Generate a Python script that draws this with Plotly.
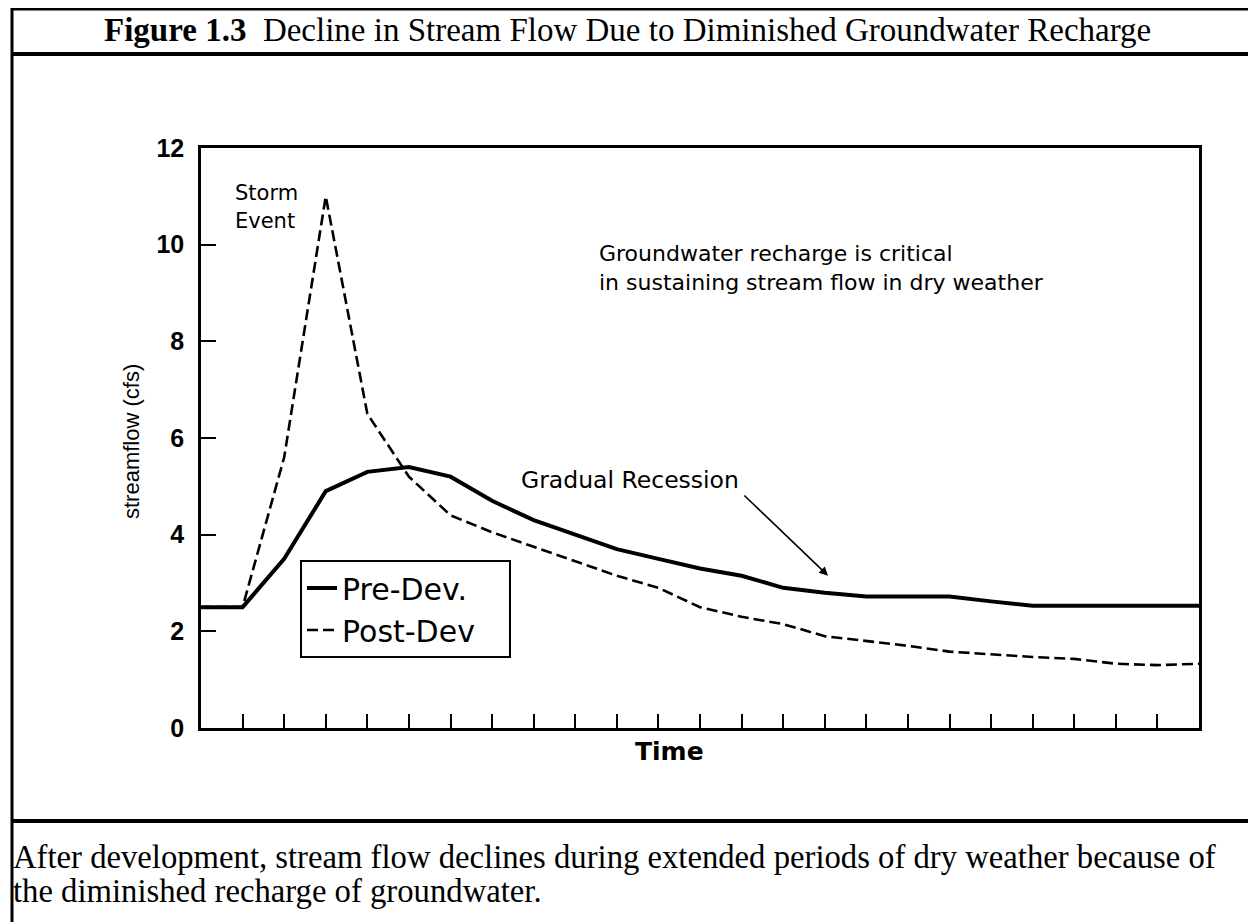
import plotly.graph_objects as go

# streamflow (cfs) at each time step
time_steps = list(range(25))
pre_dev = [2.5, 2.5, 3.5, 4.9, 5.3, 5.4, 5.2, 4.7, 4.3, 4.0, 3.7, 3.5, 3.3, 3.15,
           2.9, 2.8, 2.72, 2.72, 2.72, 2.62, 2.53, 2.53, 2.53, 2.53, 2.53]
post_dev = [2.5, 2.5, 5.6, 11.0, 6.5, 5.2, 4.4, 4.05, 3.75, 3.45, 3.15, 2.9, 2.5, 2.3,
            2.15, 1.9, 1.8, 1.7, 1.58, 1.52, 1.47, 1.43, 1.33, 1.3, 1.33]
y_ticks = [0, 2, 4, 6, 8, 10, 12]
x_ticks = list(range(1, 24))

OFF = 8                      # page body margin around the plot div
W, H = 1256 - OFF, 922 - OFF
L, R, T, B = 201, 1199, 148, 728   # plot box in page pixels


def px(x):
    return (x - L) / (R - L)


def py(y):
    return (B - y) / (B - T)


sans = "DejaVu Sans, Arial, sans-serif"
arial = "Liberation Sans, Arial, sans-serif"
times = "Liberation Serif, Times New Roman, serif"

fig = go.Figure()
fig.add_trace(go.Scatter(x=time_steps, y=pre_dev, mode="lines", name="Pre-Dev.",
                         line=dict(color="black", width=4)))
fig.add_trace(go.Scatter(x=time_steps, y=post_dev, mode="lines",
                         name="Post-Dev&nbsp;&nbsp;&nbsp;",
                         line=dict(color="black", width=2.6, dash="11px,5px")))

fig.update_layout(
    width=W, height=H,
    margin=dict(l=L - OFF, r=W - (R - OFF), t=T - OFF, b=H - (B - OFF)),
    paper_bgcolor="white", plot_bgcolor="white",
    showlegend=True,
    legend=dict(x=px(300), y=py(560), xanchor="left", yanchor="top",
                bordercolor="black", borderwidth=2, bgcolor="white",
                font=dict(family=sans, size=30, color="black"),
                itemwidth=30, tracegroupgap=0),
    xaxis=dict(range=[0, 24], tickvals=x_ticks, showticklabels=False,
               ticks="inside", ticklen=14, tickwidth=2, tickcolor="black",
               showline=True, linewidth=2.5, linecolor="black", mirror=True,
               showgrid=False, zeroline=False),
    yaxis=dict(range=[0, 12], tickvals=y_ticks, ticks="inside", ticklen=15,
               tickwidth=2, tickcolor="black", ticklabelstandoff=9,
               tickfont=dict(family=arial, size=25, color="black", weight="bold"),
               showline=True, linewidth=2.5, linecolor="black", mirror=True,
               showgrid=False, zeroline=False),
)

# frame around the figure
frame = [
    (px(12), py(9), 2.0, py(9), 3),
    (px(12), py(54), 2.0, py(54), 4),
    (px(12), py(821), 2.0, py(821), 4),
    (px(12), py(8), px(12), -1.0, 3),
]
for x0, y0, x1, y1, w in frame:
    fig.add_shape(type="line", xref="paper", yref="paper", x0=x0, y0=y0, x1=x1, y1=y1,
                  line=dict(color="black", width=w))

fig.add_annotation(xref="paper", yref="paper", x=px(627), y=py(30), xanchor="center",
                   yanchor="middle", showarrow=False,
                   text="<b>Figure 1.3</b> &nbsp;Decline in Stream Flow Due to Diminished Groundwater Recharge",
                   font=dict(family=times, size=33, color="black"))
caption = ["After development, stream flow declines during extended periods of dry weather because of",
           "the diminished recharge of groundwater."]
for line, yc in zip(caption, [857, 891]):
    fig.add_annotation(xref="paper", yref="paper", x=px(11), y=py(yc), xanchor="left",
                       yanchor="middle", showarrow=False, text=line,
                       font=dict(family=times, size=32.7, color="black"))

# axis titles
fig.add_annotation(xref="paper", yref="paper", x=px(131), y=py(442), textangle=-90,
                   xanchor="center", yanchor="middle", showarrow=False,
                   text="streamflow (cfs)", font=dict(family=arial, size=22, color="black"))
fig.add_annotation(xref="paper", yref="paper", x=px(669), y=py(751),
                   xanchor="center", yanchor="middle", showarrow=False,
                   text="<b>Time</b>", font=dict(family=sans, size=25, color="black"))

# notes inside the plot
notes = [("Storm", 0.77, 11.07, 21), ("Event", 0.77, 10.49, 21),
         ("Groundwater recharge is critical", 9.52, 9.81, 22),
         ("in sustaining stream flow in dry weather", 9.52, 9.21, 22),
         ("Gradual Recession", 7.65, 5.13, 23.5)]
for txt, xv, yv, size in notes:
    fig.add_annotation(x=xv, y=yv, xanchor="left", yanchor="middle", showarrow=False,
                       text=txt, font=dict(family=sans, size=size, color="black"))
fig.add_annotation(x=15.08, y=3.15, ax=13.03, ay=4.84, axref="x", ayref="y",
                   showarrow=True, arrowhead=2, arrowsize=1.1, arrowwidth=1.6,
                   arrowcolor="black", text="")

fig.write_html("out.html")
